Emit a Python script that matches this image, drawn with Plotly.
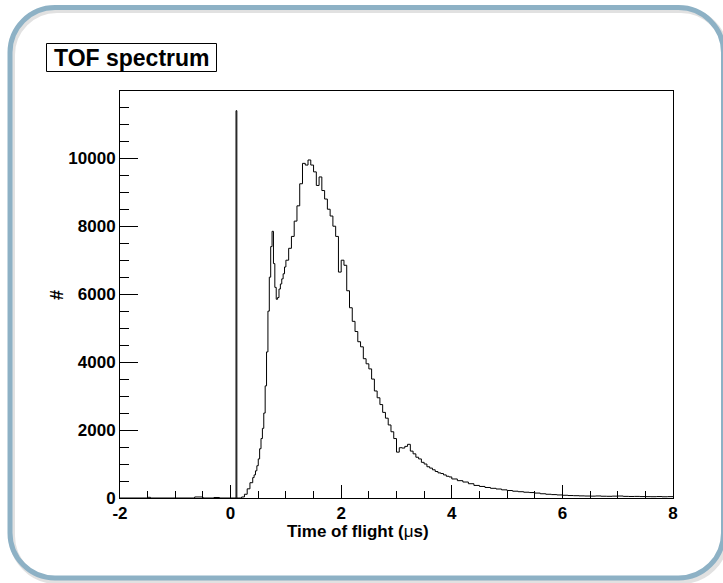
import plotly.graph_objects as go

# ---------------- data ----------------
# histogram bin left edges (μs) and counts
pre_edges = [-2.0, -1.5, -1.45, -1.0, -0.65, -0.5, -0.3, -0.2, 0.0, 0.098, 0.113]
pre_counts = [0, 20, 0, 0, 30, 0, 15, 0, 0, 11400, 0]

seg_a_edges = [0.15, 0.20, 0.25, 0.30, 0.35]
seg_a_counts = [0, 30, 110, 270, 450]

seg_b_edges = [round(0.40 + 0.025 * i, 3) for i in range(24)]  # 0.400 .. 0.975
seg_b_counts = [
    600, 680, 800, 950, 1150, 1450, 1750, 2050, 2500, 3300,
    4300, 5500, 6500, 7400, 7850, 6900, 6200, 5850, 5900, 6150,
    6300, 6450, 6600, 6800,
]

seg_c_edges = [round(1.00 + 0.05 * i, 2) for i in range(60)]  # 1.00 .. 3.95
seg_c_counts = [
    7000, 7350, 7700, 8150, 8600, 9250, 9850, 9800, 9950, 9800,
    9600, 9200, 9450, 9050, 8800, 8500, 8300, 8000, 7700, 6650,
    7000, 6850, 6100, 5600, 5200, 4900, 4600, 4450, 4100, 3950,
    3800, 3500, 3150, 2950, 2750, 2520, 2350, 2150, 1950, 1750,
    1350, 1480, 1470, 1520, 1580, 1380, 1300, 1200, 1150, 1050,
    1000, 920, 880, 830, 780, 740, 720, 680, 640, 620,
]

seg_d_edges = [round(4.0 + 0.1 * i, 1) for i in range(40)]  # 4.0 .. 7.9
seg_d_counts = [
    560, 510, 470, 420, 370, 340, 310, 285, 265, 240,
    220, 200, 185, 170, 160, 145, 125, 110, 100, 90,
    80, 72, 68, 62, 58, 55, 60, 52, 50, 55,
    58, 48, 45, 47, 42, 40, 38, 42, 36, 40,
]
last_edge = 8.0

x_ticks = [-2, 0, 2, 4, 6, 8]
y_ticks = [0, 2000, 4000, 6000, 8000, 10000]

edges = pre_edges + seg_a_edges + seg_b_edges + seg_c_edges + seg_d_edges + [last_edge]
counts = pre_counts + seg_a_counts + seg_b_counts + seg_c_counts + seg_d_counts
counts = counts + [counts[-1]]

# ---------------- geometry helpers (pixel -> paper) ----------------
W, H = 723, 583
L, R, T, B = 120, 673, 91, 498


def X(px):
    return (px - L) / (R - L)


def Y(py):
    return (B - py) / (B - T)


def rounded_rect(x0, y0, x1, y1, r):
    k = 0.5523 * r
    pts = []
    pts.append(f"M {X(x0 + r)},{Y(y0)}")
    pts.append(f"L {X(x1 - r)},{Y(y0)}")
    pts.append(f"C {X(x1 - r + k)},{Y(y0)} {X(x1)},{Y(y0 + r - k)} {X(x1)},{Y(y0 + r)}")
    pts.append(f"L {X(x1)},{Y(y1 - r)}")
    pts.append(f"C {X(x1)},{Y(y1 - r + k)} {X(x1 - r + k)},{Y(y1)} {X(x1 - r)},{Y(y1)}")
    pts.append(f"L {X(x0 + r)},{Y(y1)}")
    pts.append(f"C {X(x0 + r - k)},{Y(y1)} {X(x0)},{Y(y1 - r + k)} {X(x0)},{Y(y1 - r)}")
    pts.append(f"L {X(x0)},{Y(y0 + r)}")
    pts.append(f"C {X(x0)},{Y(y0 + r - k)} {X(x0 + r - k)},{Y(y0)} {X(x0 + r)},{Y(y0)} Z")
    return " ".join(pts)


fig = go.Figure()
fig.add_trace(go.Scatter(
    x=edges, y=counts, mode="lines", line_shape="hv",
    line=dict(color="black", width=1), showlegend=False, hoverinfo="skip",
))

FAM = "Liberation Sans, Arial, sans-serif"
tickfont = dict(family=FAM, size=17, color="black", weight="bold")

fig.update_layout(
    width=W, height=H,
    margin=dict(l=L, r=W - R, t=T, b=H - B, pad=0),
    paper_bgcolor="white", plot_bgcolor="white",
    xaxis=dict(
        range=[-2, 8], tickvals=x_ticks, ticktext=[str(v) for v in x_ticks],
        ticks="inside", ticklen=13, tickcolor="black", tickwidth=1,
        minor=dict(dtick=0.5, tick0=0, ticks="inside", ticklen=7, tickcolor="black", tickwidth=1),
        showgrid=False, zeroline=False, showline=True, linecolor="black", linewidth=1,
        mirror=True, tickfont=tickfont,
    ),
    yaxis=dict(
        range=[0, 11980], tickvals=y_ticks, ticktext=[str(v) for v in y_ticks],
        ticks="inside", ticklen=18, tickcolor="black", tickwidth=1,
        minor=dict(dtick=500, tick0=0, ticks="inside", ticklen=9, tickcolor="black", tickwidth=1),
        showgrid=False, zeroline=False, showline=True, linecolor="black", linewidth=1,
        mirror=True, tickfont=tickfont,
    ),
)

# frame shadow + frame
fig.add_shape(type="path", xref="paper", yref="paper",
              path=rounded_rect(12, 10, 726, 581, 45),
              line=dict(color="rgba(120,120,120,0.22)", width=6), layer="below")
fig.add_shape(type="path", xref="paper", yref="paper",
              path=rounded_rect(10, 7.5, 723.5, 578, 45),
              line=dict(color="#8DB1C5", width=5), layer="above")

# title box
fig.add_shape(type="rect", xref="paper", yref="paper",
              x0=X(46.5), x1=X(216.5), y0=Y(43.5), y1=Y(71.5),
              line=dict(color="black", width=1), fillcolor="white", layer="above")
fig.add_annotation(
    xref="paper", yref="paper", x=X(131.5), y=Y(58), xanchor="center", yanchor="middle",
    text="TOF spectrum", showarrow=False,
    font=dict(family=FAM, size=23, color="black", weight="bold"),
)
# x-axis title
fig.add_annotation(
    xref="paper", yref="paper", x=X(358), y=Y(531), xanchor="center", yanchor="middle",
    text="Time of flight (<span style='font-weight:normal'>μ</span>s)", showarrow=False,
    font=dict(family=FAM, size=17, color="black", weight="bold"),
)
# y-axis title
fig.add_annotation(
    xref="paper", yref="paper", x=X(57), y=Y(295), xanchor="center", yanchor="middle",
    text="#", showarrow=False, textangle=-90,
    font=dict(family=FAM, size=18, color="black", weight="bold"),
)

fig.write_html("out.html")
